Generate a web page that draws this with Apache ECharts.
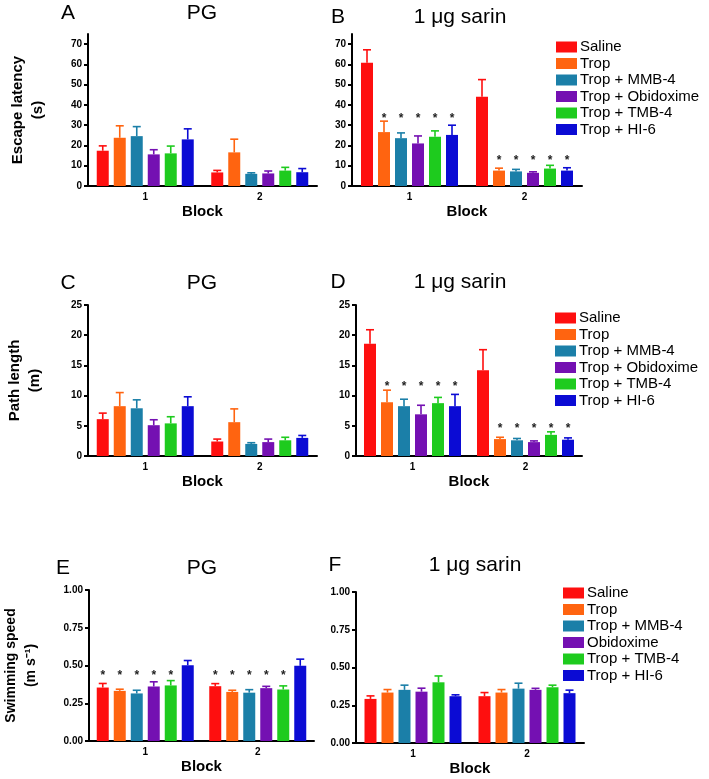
<!DOCTYPE html>
<html>
<head>
<meta charset="utf-8">
<script src="https://cdn.jsdelivr.net/npm/echarts@6/dist/echarts.min.js"></script>
<style>
  html, body { margin: 0; background: #fff; }
  #chart { width: 709px; height: 779px; }
</style>
</head>
<body>
<div id="chart"></div>
<script>
const blocks = ['1', '2'];
const groups = ['Saline', 'Trop', 'Trop + MMB-4', 'Trop + Obidoxime', 'Trop + TMB-4', 'Trop + HI-6'];
const groupsF = ['Saline', 'Trop', 'Trop + MMB-4', 'Obidoxime', 'Trop + TMB-4', 'Trop + HI-6'];
const colors = ['#fe0f0f', '#ff6410', '#1b7fa8', '#7410b2', '#1ecb1e', '#0b0bd4'];

// each row = one group, [block 1, block 2]
const escPgMean = [[17.4, 6.7], [23.8, 16.6], [24.6, 6.0], [15.6, 6.2], [16.1, 7.6], [23.0, 6.8]];
const escPgSem  = [[2.4, 1.0], [5.9, 6.5], [4.7, 0.5], [2.3, 1.2], [3.6, 1.6], [5.2, 1.8]];
const escSarMean = [[60.8, 44.0], [26.6, 7.6], [23.6, 7.2], [21.0, 6.5], [24.3, 8.6], [25.2, 7.6]];
const escSarSem  = [[6.4, 8.5], [5.4, 1.2], [2.6, 1.0], [3.7, 0.5], [2.9, 1.6], [4.8, 1.4]];

const pathPgMean = [[6.1, 2.4], [8.25, 5.6], [7.9, 2.0], [5.1, 2.3], [5.4, 2.6], [8.25, 3.0]];
const pathPgSem  = [[1.0, 0.4], [2.25, 2.2], [1.4, 0.2], [0.9, 0.5], [1.1, 0.5], [1.55, 0.4]];
const pathSarMean = [[18.6, 14.2], [8.9, 2.8], [8.25, 2.6], [6.9, 2.3], [8.75, 3.5], [8.25, 2.7]];
const pathSarSem  = [[2.3, 3.4], [2.0, 0.3], [1.15, 0.3], [1.5, 0.2], [0.95, 0.5], [1.95, 0.3]];

const speedPgMean = [[0.354, 0.363], [0.332, 0.325], [0.315, 0.32], [0.361, 0.35], [0.368, 0.341], [0.502, 0.498]];
const speedPgSem  = [[0.027, 0.017], [0.011, 0.011], [0.021, 0.02], [0.031, 0.012], [0.032, 0.024], [0.031, 0.044]];
const speedSarMean = [[0.292, 0.31], [0.334, 0.334], [0.352, 0.36], [0.34, 0.352], [0.402, 0.369], [0.31, 0.33]];
const speedSarSem  = [[0.02, 0.024], [0.02, 0.02], [0.031, 0.036], [0.023, 0.01], [0.042, 0.014], [0.009, 0.02]];

// significance marks: which groups get a star, and the star height per block
const starsSarin = [[0, 0], [1, 1], [1, 1], [1, 1], [1, 1], [1, 1]];
const starsSpeedPg = [[1, 1], [1, 1], [1, 1], [1, 1], [1, 1], [0, 0]];
const starYEsc = [34.5, 13.8];
const starYPath = [11.9, 5.0];
const starYSpeed = [0.45, 0.45];

const escTicks = [0, 10, 20, 30, 40, 50, 60, 70];
const pathTicks = [0, 5, 10, 15, 20, 25];
const speedTicks = [0, 0.25, 0.5, 0.75, 1];

const FONT = '"Liberation Sans", Arial, Helvetica, sans-serif';
const PITCH = 17;

const panels = [
  { letter: 'A', title: 'PG', lx: 68, tx: 202, ty: 13, grid: { left: 88, top: 34, width: 229, height: 152 },
    max: 75, ticks: escTicks, mean: escPgMean, sem: escPgSem, yName: 'Escape latency\n(s)', nameGap: 40, names: groups },
  { letter: 'B', title: '1 \u03bcg sarin', lx: 338, tx: 460, ty: 17, grid: { left: 352, top: 34, width: 230, height: 152 },
    max: 75, ticks: escTicks, mean: escSarMean, sem: escSarSem, stars: starsSarin, starY: starYEsc, names: groups },
  { letter: 'C', title: 'PG', lx: 68, tx: 202, ty: 283, grid: { left: 88, top: 305, width: 229, height: 151 },
    max: 25, ticks: pathTicks, mean: pathPgMean, sem: pathPgSem, yName: 'Path length\n(m)', nameGap: 43, names: groups },
  { letter: 'D', title: '1 \u03bcg sarin', lx: 338, tx: 460, ty: 282, grid: { left: 356, top: 305, width: 226, height: 151 },
    max: 25, ticks: pathTicks, mean: pathSarMean, sem: pathSarSem, stars: starsSarin, starY: starYPath, names: groups },
  { letter: 'E', title: 'PG', lx: 63, tx: 202, ty: 568, grid: { left: 88, top: 590, width: 226, height: 151 },
    max: 1, ticks: speedTicks, mean: speedPgMean, sem: speedPgSem, stars: starsSpeedPg, starY: starYSpeed,
    yName: 'Swimming speed\n(m s\u207b\u00b9)', nameGap: 48, fmt: v => v.toFixed(2), names: groups },
  { letter: 'F', title: '1 \u03bcg sarin', lx: 335, tx: 475, ty: 565, grid: { left: 356, top: 592, width: 228, height: 151 },
    max: 1, ticks: speedTicks, mean: speedSarMean, sem: speedSarSem, fmt: v => v.toFixed(2), names: groupsF }
];

const grid = [], xAxis = [], yAxis = [], series = [], graphic = [];

function errSeries(idx, g, p) {
  return {
    type: 'custom', xAxisIndex: idx, yAxisIndex: idx, z: 3, silent: true,
    data: blocks.map((b, i) => [i, p.mean[g][i], p.sem[g][i], p.stars && p.stars[g][i] ? p.starY[i] : null]),
    renderItem(params, api) {
      const ci = api.value(0);
      const m = api.value(1);
      const base = api.coord([ci, m]);
      const top = api.coord([ci, m + api.value(2)]);
      const x = base[0] + (g - 2.5) * PITCH;
      const st = { stroke: colors[g], lineWidth: 1.6 };
      const kids = [
        { type: 'line', shape: { x1: x, y1: base[1], x2: x, y2: top[1] }, style: st },
        { type: 'line', shape: { x1: x - 4, y1: top[1], x2: x + 4, y2: top[1] }, style: st }
      ];
      const s = api.value(3);
      if (!isNaN(s)) {
        const sp = api.coord([ci, s]);
        kids.push({ type: 'text', x: x, y: sp[1] + 3,
          style: { text: '*', fill: '#222', font: 'bold 12px ' + FONT, align: 'center', verticalAlign: 'middle' } });
      }
      return { type: 'group', children: kids };
    }
  };
}

panels.forEach((p, idx) => {
  grid.push(p.grid);
  xAxis.push({
    type: 'category', gridIndex: idx, data: blocks,
    axisLine: { lineStyle: { color: '#000', width: 2 } },
    axisTick: { show: false },
    axisLabel: { color: '#000', fontSize: 10, fontWeight: 'bold', fontFamily: FONT, margin: 6 },
    name: 'Block', nameLocation: 'middle', nameGap: 18,
    nameTextStyle: { color: '#000', fontSize: 15, fontWeight: 'bold', fontFamily: FONT }
  });
  yAxis.push({
    type: 'value', gridIndex: idx, min: 0, max: p.max, splitLine: { show: false },
    axisLine: { show: true, lineStyle: { color: '#000', width: 2 } },
    axisTick: { show: true, length: 4, lineStyle: { width: 2 }, customValues: p.ticks },
    axisLabel: { color: '#000', fontSize: 10, fontWeight: 'bold', fontFamily: FONT, margin: 6,
      customValues: p.ticks, formatter: p.fmt || (v => String(v)) },
    name: p.yName || '', nameLocation: 'middle', nameRotate: 90, nameGap: p.nameGap || 30,
    nameTextStyle: { color: '#000', fontSize: p.letter === 'E' ? 14 : 15, fontWeight: 'bold', fontFamily: FONT, lineHeight: 20 }
  });
  p.names.forEach((n, g) => {
    series.push({
      type: 'bar', name: n, xAxisIndex: idx, yAxisIndex: idx,
      data: p.mean[g].map(v => v),
      barWidth: 12, barGap: '41.67%',
      itemStyle: { color: colors[g] }
    });
  });
  p.names.forEach((n, g) => series.push(errSeries(idx, g, p)));
  graphic.push(
    { type: 'text', x: p.lx, y: p.ty, style: { text: p.letter, fill: '#000', font: '21px ' + FONT, align: 'center', verticalAlign: 'middle' } },
    { type: 'text', x: p.tx, y: p.ty, style: { text: p.title, fill: '#000', font: '21px ' + FONT, align: 'center', verticalAlign: 'middle' } }
  );
});

function legendAt(names, left, top) {
  return {
    data: names, left: left, top: top, orient: 'vertical', icon: 'rect', padding: 0,
    itemWidth: 21, itemHeight: 11, itemGap: 0.5, selectedMode: false,
    textStyle: { color: '#000', fontSize: 15, fontFamily: FONT, lineHeight: 16, padding: [0, 0, 0, -2] }
  };
}

const chart = echarts.init(document.getElementById('chart'), null, { renderer: 'canvas' });
chart.setOption({
  backgroundColor: '#fff',
  animation: false,
  textStyle: { fontFamily: FONT },
  grid, xAxis, yAxis, series, graphic,
  legend: [
    legendAt(groups, 556, 39),
    legendAt(groups, 555, 310),
    legendAt(groupsF, 563, 585)
  ]
});
</script>
</body>
</html>
